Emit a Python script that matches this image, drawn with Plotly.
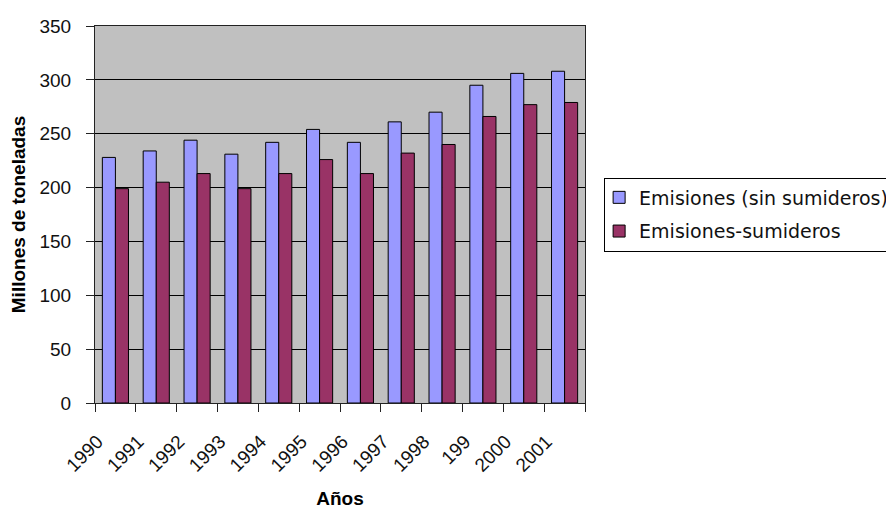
import plotly.graph_objects as go

years = ["1990", "1991", "1992", "1993", "1994", "1995", "1996", "1997", "1998", "199", "2000", "2001"]
emisiones = [228, 234, 244, 231, 242, 254, 242, 261, 270, 295, 306, 308]
emisiones_sumideros = [199, 205, 213, 199, 213, 226, 213, 232, 240, 266, 277, 279]

FONT = "Liberation Sans, Arial, sans-serif"
LEGFONT = "DejaVu Sans, Liberation Sans, sans-serif"

fig = go.Figure()
fig.add_trace(go.Bar(
    x=years, y=emisiones, name="Emisiones (sin sumideros)",
    marker=dict(color="#9999FF", line=dict(color="#000000", width=1)),
    legendgroup="a",
))
fig.add_trace(go.Bar(
    x=years, y=emisiones_sumideros, name="Emisiones-sumideros",
    marker=dict(color="#993366", line=dict(color="#000000", width=1)),
    legendgroup="b",
))

# page body has an 8px default margin; figure offset compensates for it
fig.update_layout(
    width=886, height=501,
    margin=dict(l=87, r=309, t=18, b=106, autoexpand=False),
    paper_bgcolor="white",
    plot_bgcolor="#C0C0C0",
    barmode="group",
    bargap=0.36,
    bargroupgap=0,
    font=dict(family=FONT, size=19, color="#000000"),
    legend=dict(
        x=1.039, xanchor="left", y=0.5, yanchor="middle",
        bordercolor="#000000", borderwidth=1, bgcolor="white",
        font=dict(family=LEGFONT, size=19, color="#111111"),
        traceorder="grouped", tracegroupgap=6, indentation=-6,
    ),
    xaxis=dict(
        title=dict(text="<b>Años</b>", font=dict(size=19), standoff=17),
        tickangle=-45, ticks="outside", ticklen=8, tickson="boundaries",
        ticklabelstandoff=19, ticklabelshift=-18,
        tickcolor="#222222", showline=True, linecolor="#222222", linewidth=1,
        mirror=True, showgrid=False, tickfont=dict(size=19, color="#111111"),
    ),
    yaxis=dict(
        title=dict(text="<b>Millones de toneladas</b>", font=dict(size=19), standoff=14),
        range=[0, 350], dtick=50, ticks="outside", ticklen=8,
        ticklabelstandoff=11,
        tickcolor="#222222", showline=True, linecolor="#222222", linewidth=1,
        mirror=True, showgrid=True, gridcolor="#000000", gridwidth=1,
        zeroline=False, tickfont=dict(size=19, color="#111111"),
    ),
)

fig.write_html("out.html")
